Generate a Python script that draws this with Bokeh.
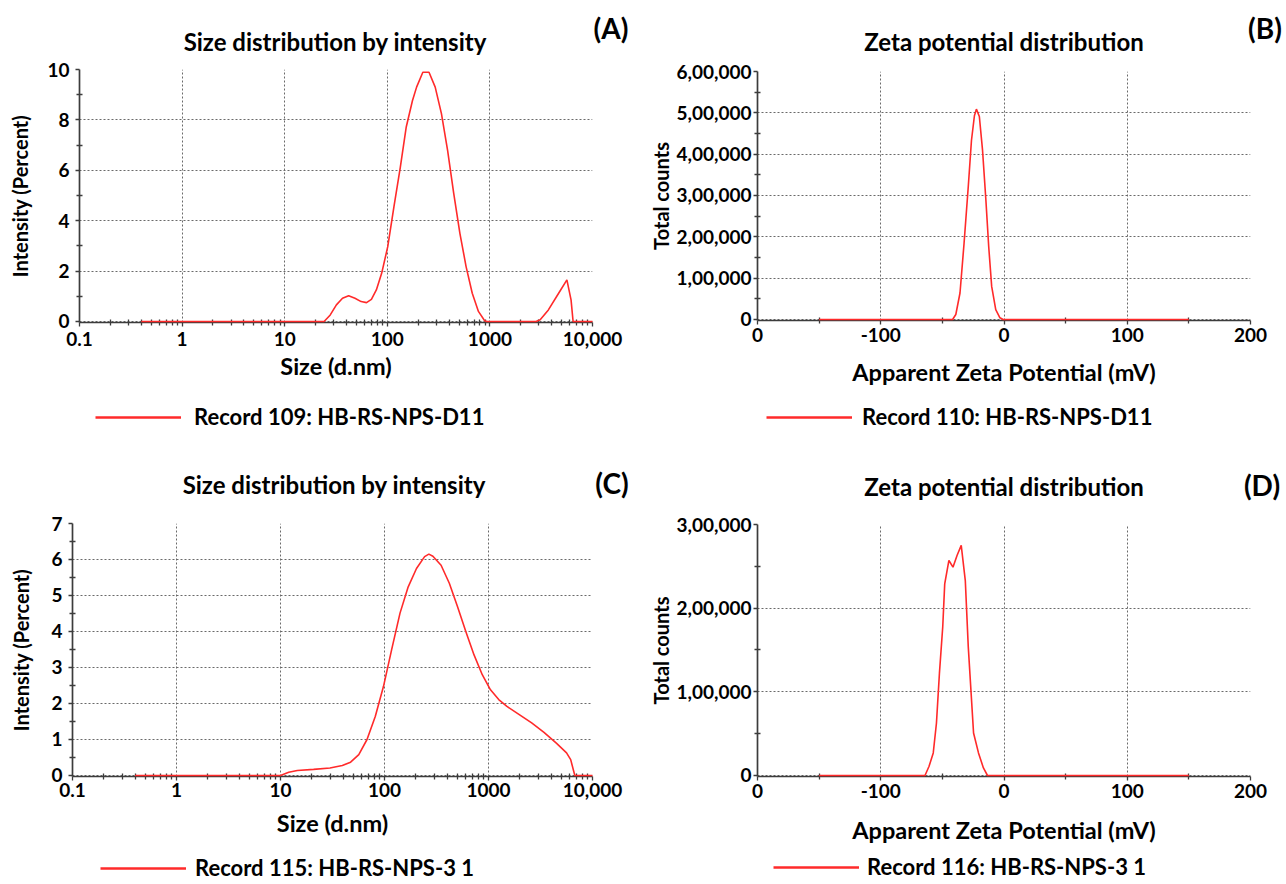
from bokeh.plotting import figure
from bokeh.models import Range1d, FixedTicker, Legend, LegendItem, Div
from bokeh.layouts import column, row
from bokeh.embed import file_html
from bokeh.resources import INLINE

FONT = "Lato"
RED = "#ff2a2a"
AX = "#3c3c3c"
GRID = "#6a6a6a"

# ---------------- data ----------------
# (A) size distribution by intensity, Record 109
a_size = [0.4, 24.2, 27.8, 31.9, 36.6, 42.0, 48.4, 55.6, 62.7, 70.0, 78.2, 88.1, 101, 116, 134,
          153, 176, 193, 222, 255, 293, 337, 387, 444, 510, 586, 673, 773, 889, 930, 2818,
          3090, 3715, 4677, 5630, 6180, 6470, 10000]
a_intensity = [0, 0, 0.26, 0.66, 0.92, 1.02, 0.92, 0.79, 0.75, 0.88, 1.25, 1.91, 2.97, 4.55, 6.13,
               7.72, 8.77, 9.30, 9.89, 9.89, 9.30, 8.25, 6.79, 5.08, 3.50, 2.18, 1.12, 0.40, 0.03, 0, 0,
               0.07, 0.46, 1.12, 1.65, 0.86, 0, 0]

# (B) zeta potential distribution, Record 110
b_zeta = [-150, -41.7, -39.1, -35.7, -32.4, -29.0, -26.4, -24.0, -22.4, -20.0, -17.4, -14.7,
          -12.4, -10.0, -6.7, -3.3, -0.7, 150]
b_counts = [0, 0, 12000, 64000, 184500, 321000, 433000, 493000, 509000, 491000, 409000, 289000,
            176000, 80000, 24000, 4000, 0, 0]

# (C) size distribution by intensity, Record 115
c_size = [0.4, 10, 12.0, 14.5, 20.8, 29.9, 39.3, 47.2, 56.6, 67.9, 81.5, 97.7, 117, 141, 169, 203,
          243, 267, 292, 350, 420, 504, 605, 726, 871, 1045, 1254, 1504, 1977, 2600, 3415, 4490,
          5630, 6170, 6760, 10000]
c_intensity = [0, 0, 0.09, 0.14, 0.17, 0.21, 0.28, 0.37, 0.58, 1.0, 1.64, 2.47, 3.49, 4.51, 5.24, 5.75,
               6.08, 6.15, 6.09, 5.84, 5.34, 4.69, 4.00, 3.35, 2.80, 2.38, 2.11, 1.92, 1.69, 1.46, 1.20, 0.90,
               0.63, 0.44, 0, 0]

# (D) zeta potential distribution, Record 116
d_zeta = [-150, -64.1, -60.8, -57.4, -54.8, -52.4, -49.7, -48.1, -44.7, -41.4, -38.1, -34.7,
          -31.4, -29.0, -24.7, -20.7, -16.7, -13.4, 150]
d_counts = [0, 0, 11000, 27000, 62700, 122000, 177800, 229000, 257000, 249000, 263000, 275000,
            233000, 154000, 50800, 27000, 9000, 0, 0]

# ticks / labels
size_ticks = [0.1, 1, 10, 100, 1000, 10000]
size_tick_labels = ["0.1", "1", "10", "100", "1000", "10,000"]
size_minor = [m * d for d in [0.1, 1, 10, 100, 1000] for m in range(2, 10)]
zeta_ticks = [-200, -100, 0, 100, 200]
zeta_tick_labels = ["0", "-100", "0", "100", "200"]
zeta_minor = [-150, -50, 50, 150]
a_int_ticks = [0, 2, 4, 6, 8, 10]
a_int_labels = ["0", "2", "4", "6", "8", "10"]
c_int_ticks = [0, 1, 2, 3, 4, 5, 6, 7]
c_int_labels = ["0", "1", "2", "3", "4", "5", "6", "7"]
b_count_ticks = [0, 100000, 200000, 300000, 400000, 500000, 600000]
b_count_labels = ["0", "1,00,000", "2,00,000", "3,00,000", "4,00,000", "5,00,000", "6,00,000"]
d_count_ticks = [0, 100000, 200000, 300000]
d_count_labels = ["0", "1,00,000", "2,00,000", "3,00,000"]

titles = ["Size distribution by intensity", "Zeta potential distribution",
          "Size distribution by intensity", "Zeta potential distribution"]
records = ["Record 109: HB-RS-NPS-D11", "Record 110: HB-RS-NPS-D11",
           "Record 115: HB-RS-NPS-3 1", "Record 116: HB-RS-NPS-3 1"]
panel_tags = ["(A)", "(B)", "(C)", "(D)"]
x_labels = ["Size (d.nm)", "Apparent Zeta Potential (mV)", "Size (d.nm)", "Apparent Zeta Potential (mV)"]
y_labels = ["Intensity (Percent)", "Total counts", "Intensity (Percent)", "Total counts"]


def make_header(w, h, title, tag, tpos, gpos):
    span = ("<span style='position:absolute;left:{x}px;top:{y}px;transform:translate(-50%,-50%);"
            "white-space:nowrap;font-family:Lato;font-weight:bold;font-size:{s}px;"
            "line-height:1;color:#000;'>{t}</span>")
    html = ("<div style='position:relative;width:{w}px;height:{h}px;overflow:visible;'>".format(w=w, h=h)
            + span.format(x=tpos[0], y=tpos[1], s=24, t=title)
            + span.format(x=gpos[0], y=gpos[1], s=28, t=tag)
            + "</div>")
    return Div(text=html, width=w, height=h, margin=0)


def make_footer(w, h, x, y, rec, loc, standoff):
    # legend strip under the axis; its key is the series itself, kept out of the visible y-range
    f = figure(width=w, height=h, output_backend="svg", toolbar_location=None,
               x_axis_location=None, y_axis_location=None, title_location=None,
               x_range=Range1d(0, 1), y_range=Range1d(-2, -1))
    f.min_border_left = f.min_border_right = f.min_border_top = f.min_border_bottom = 0
    f.outline_line_color = None
    f.grid.visible = False
    key = f.line(x, y, line_color=RED, line_width=2.4)
    leg = Legend(items=[LegendItem(label=rec, renderers=[key])], location=loc,
                 border_line_color=None, background_fill_alpha=0, padding=0, margin=0,
                 spacing=0, glyph_width=86, glyph_height=20, label_standoff=standoff,
                 label_text_font=FONT, label_text_font_size="22px",
                 label_text_font_style="bold", label_text_color="black")
    f.add_layout(leg)
    return f


def make_panel(x, y, log, xr, yr, xt, xt_lab, xminor, yt, yt_lab, yminor,
               xlabel, ylabel, w, h, mb, lay):
    p = figure(width=w, height=h, output_backend="svg", toolbar_location=None,
               x_axis_type="log" if log else "linear", title_location=None,
               x_range=Range1d(*xr), y_range=Range1d(*yr))
    p.min_border_left, p.min_border_right, p.min_border_top, p.min_border_bottom = mb
    p.outline_line_color = None
    p.background_fill_color = "white"
    p.border_fill_color = "white"

    p.xaxis.ticker = FixedTicker(ticks=xt, minor_ticks=xminor)
    p.yaxis.ticker = FixedTicker(ticks=yt, minor_ticks=yminor)
    p.xaxis.major_label_overrides = {t: s for t, s in zip(xt, xt_lab)}
    p.yaxis.major_label_overrides = {t: s for t, s in zip(yt, yt_lab)}
    p.xaxis.axis_label = xlabel
    p.yaxis.axis_label = ylabel
    for ax in (p.xaxis, p.yaxis):
        ax.axis_line_color = AX
        ax.axis_line_width = 1.7
        ax.major_tick_line_color = AX
        ax.minor_tick_line_color = AX
        ax.major_tick_line_width = 1.3
        ax.minor_tick_line_width = 1.3
        ax.major_tick_in = 0
        ax.major_tick_out = 4
        ax.minor_tick_in = 3
        ax.minor_tick_out = 3
        ax.major_label_text_font = FONT
        ax.major_label_text_font_size = "19px"
        ax.major_label_text_font_style = "bold"
        ax.major_label_text_color = "black"
        ax.axis_label_text_font = FONT
        ax.axis_label_text_font_style = "bold"
        ax.axis_label_text_color = "black"
    p.xaxis.major_label_standoff = lay["xls"]
    p.yaxis.major_label_standoff = lay["yls"]
    p.xaxis.axis_label_text_font_size = "23.5px"
    p.yaxis.axis_label_text_font_size = "20px"
    p.xaxis.axis_label_standoff = lay["xas"]
    p.yaxis.axis_label_standoff = lay["yas"]

    for g in (p.xgrid, p.ygrid):
        g.grid_line_color = GRID
        g.grid_line_dash = "2 2"
        g.grid_line_width = 1

    p.line(x, y, line_color=RED, line_width=1.6, level="overlay")
    return p


hA = make_header(640, 55, titles[0], panel_tags[0], (335, 42), (611, 28))
pA = make_panel(a_size, a_intensity, True, (0.1, 10000), (-0.04, 10),
                size_ticks, size_tick_labels, size_minor,
                a_int_ticks, a_int_labels, [1, 3, 5, 7, 9],
                x_labels[0], y_labels[0], 640, 339, (79, 48, 14, 72),
                dict(xls=5, yls=6, xas=3, yas=12))
fA = make_footer(640, 46, a_size, a_intensity, records[0], (16, 10), 13)

hB = make_header(644, 57, titles[1], panel_tags[1], (364, 42), (625, 28))
pB = make_panel(b_zeta, b_counts, False, (-200, 200), (-2500, 600000),
                zeta_ticks, zeta_tick_labels, zeta_minor,
                b_count_ticks, b_count_labels, [50000 + 100000 * i for i in range(6)],
                x_labels[1], y_labels[1], 644, 339, (117, 34, 14, 76),
                dict(xls=3, yls=2, xas=13, yas=0))
fB = make_footer(644, 44, b_zeta, b_counts, records[1], (9, 10), 10)

hC = make_header(640, 69, titles[2], panel_tags[2], (334, 45), (612, 43))
pC = make_panel(c_size, c_intensity, True, (0.1, 10000), (-0.028, 7),
                size_ticks, size_tick_labels, size_minor,
                c_int_ticks, c_int_labels, [0.5 + i for i in range(7)],
                x_labels[2], y_labels[2], 640, 337, (72, 48, 14, 70),
                dict(xls=2, yls=6, xas=9, yas=15))
fC = make_footer(640, 36, c_size, c_intensity, records[2], (28, 1), 9)

hD = make_header(644, 70, titles[3], panel_tags[3], (364, 47), (622, 45))
pD = make_panel(d_zeta, d_counts, False, (-200, 200), (-1200, 300000),
                zeta_ticks, zeta_tick_labels, zeta_minor,
                d_count_ticks, d_count_labels, [50000, 150000, 250000],
                x_labels[3], y_labels[3], 644, 343, (117, 34, 14, 77),
                dict(xls=3, yls=2, xas=15, yas=0))
fD = make_footer(644, 29, d_zeta, d_counts, records[3], (16, 2), 8)

layout = column(row(column(hA, pA, fA), column(hB, pB, fB)),
                row(column(hC, pC, fC), column(hD, pD, fD)))
open("out.html", "w").write(file_html(layout, INLINE))
